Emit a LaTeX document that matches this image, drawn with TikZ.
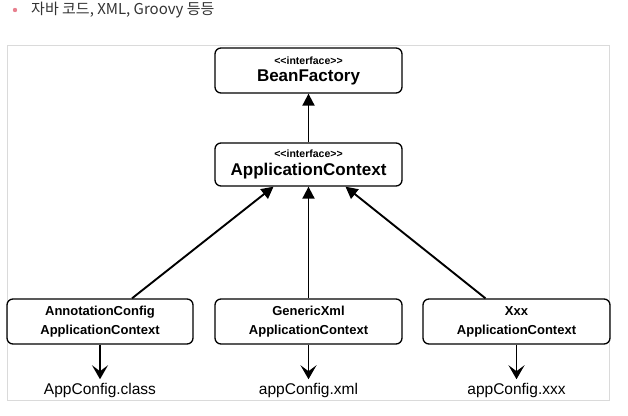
\documentclass[tikz,border=0pt]{standalone}
\usepackage{fontspec}
\setmainfont{Liberation Sans}
\newfontfamily\krfont{Noto Sans CJK KR}
\usetikzlibrary{arrows.meta,calc}
\definecolor{framegray}{HTML}{DADADA}
\definecolor{bulletpink}{HTML}{E8808F}
\definecolor{titlegray}{HTML}{333333}
\tikzset{
    box/.style={draw, line width=1.3pt, rounded corners=6pt, minimum width=187pt,
        minimum height=45pt, align=center, inner sep=0pt},
    inherit/.style={line width=1.9pt, -{Triangle[width=12pt,length=12pt]}},
    uses/.style={line width=1.9pt, -{Stealth[width=16pt,length=14pt,inset=6pt]}},
}
\newcommand{\iface}{{\fontsize{10.5}{12}\selectfont\bfseries <\kern0pt<interface>\kern0pt>}}
\begin{document}
\begin{tikzpicture}[x=1pt, y=-1pt]
            \useasboundingbox (0, 0) rectangle (628, 415);

            %%title
            \fill[bulletpink](15, 10) circle (2.2);
            \node[anchor=west, text=titlegray, inner sep=0pt](title) at(31, 10){\krfont\fontsize{15}{17}\selectfont 자바 코드, XML, Groovy 등등};

            \draw[framegray, line width=1pt](7, 45) rectangle (609, 400);

            %%boxes
            \node[box](bf) at(308.5, 70.5){\iface\\[5pt]{\fontsize{17}{19}\selectfont\bfseries BeanFactory}};
            \node[box, minimum height=43pt](ac) at(308.5, 164.5){\iface\\[5pt]{\fontsize{17}{19}\selectfont\bfseries ApplicationContext}};

            \node[box, minimum width=186pt, font=\bfseries\fontsize{13}{19}\selectfont](annot) at(100, 321.5){AnnotationConfig\\ApplicationContext};
            \node[box, font=\bfseries\fontsize{13}{19}\selectfont](generic) at(308.5, 321.5){GenericXml\\ApplicationContext};
            \node[box, font=\bfseries\fontsize{13}{19}\selectfont](xxx) at(516.5, 321.5){Xxx\\ApplicationContext};

            \node[font=\fontsize{15.5}{17}\selectfont](cls) at(100, 390){AppConfig.class};
            \node[font=\fontsize{15.5}{17}\selectfont](xml) at(308.5, 390){appConfig.xml};
            \node[font=\fontsize{15.5}{17}\selectfont](xx) at(516.5, 390){appConfig.xxx};

            %%arrows
            \draw[inherit](ac.north) to (bf.south);
            \draw[inherit]($(annot.north)+(32, 0)$) to ($(ac.south)+(-35, 0)$);
            \draw[inherit](generic.north) to (ac.south);
            \draw[inherit]($(xxx.north)+(-31, 0)$) to ($(ac.south)+(37, 0)$);

            \draw[uses](annot.south) to (cls.north);
            \draw[uses](generic.south) to (xml.north);
            \draw[uses](xxx.south) to (xx.north);
        \end{tikzpicture}
\end{document}
